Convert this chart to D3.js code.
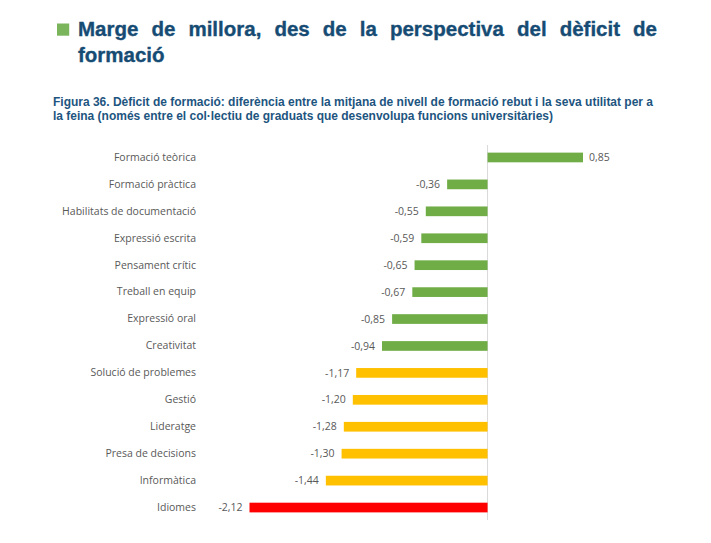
<!DOCTYPE html>
<html><head><meta charset="utf-8">
<script src="https://cdn.jsdelivr.net/npm/d3@7"></script>
<style>body{margin:0;background:#fff}</style>
</head><body>
<svg id="c" width="711" height="543"></svg>
<script>
const categories = ["Formació teòrica","Formació pràctica","Habilitats de documentació","Expressió escrita","Pensament crític","Treball en equip","Expressió oral","Creativitat","Solució de problemes","Gestió","Lideratge","Presa de decisions","Informàtica","Idiomes"];
const values = [0.85,-0.36,-0.55,-0.59,-0.65,-0.67,-0.85,-0.94,-1.17,-1.20,-1.28,-1.30,-1.44,-2.12];
const groups = ["g","g","g","g","g","g","g","g","y","y","y","y","y","r"];
const groupColors = {g:"#70ad47", y:"#ffc000", r:"#ff0000"};
const titleLines = ["Marge de millora, des de la perspectiva del dèficit de","formació"];
const subtitleLines = ["Figura 36. Dèficit de formació: diferència entre la mitjana de nivell de formació rebut i la seva utilitat per a","la feina (només entre el col·lectiu de graduats que desenvolupa funcions universitàries)"];

const svg = d3.select("#c");
// title
svg.append("rect").attr("x",57).attr("y",23.5).attr("width",12.2).attr("height",12.2).attr("fill","#7ab55c");
const tf = "Liberation Sans, Arial, sans-serif";
const t1 = svg.append("text").attr("x",78).attr("y",36).attr("font-family",tf)
  .attr("font-weight","bold").attr("font-size",20.5).attr("fill","#164c74")
  .attr("stroke","#164c74").attr("stroke-width",0.35).text(titleLines[0]);
const nat = t1.node().getComputedTextLength();
const spaces = titleLines[0].split(" ").length-1;
t1.attr("word-spacing",(657-78-nat)/spaces);
svg.append("text").attr("x",78).attr("y",61.5).attr("font-family",tf)
  .attr("font-weight","bold").attr("font-size",20.5).attr("fill","#164c74")
  .attr("stroke","#164c74").attr("stroke-width",0.35).text(titleLines[1]);
// subtitle
const ends = [653,553];
subtitleLines.forEach((s,i)=>{
  svg.append("text").attr("x",53).attr("y",105.5+i*14).attr("font-family",tf)
    .attr("font-weight","bold").attr("font-size",12).attr("fill","#1d5580").text(s)
    .attr("textLength",ends[i]-53).attr("lengthAdjust","spacingAndGlyphs");
});

const x = d3.scaleLinear().domain([-2.12,0.85]).range([249.5,583]);
const y = d3.scaleBand().domain(categories).range([144,521]).paddingInner(0.64).paddingOuter(0.32);

svg.append("line").attr("x1",x(0)).attr("x2",x(0)).attr("y1",145).attr("y2",520).attr("stroke","#d9d9d9").attr("stroke-width",1);

svg.selectAll("rect.bar").data(values).enter().append("rect").attr("class","bar")
  .attr("x",d=>x(Math.min(0,d))).attr("width",d=>Math.abs(x(d)-x(0)))
  .attr("y",(d,i)=>y(categories[i])).attr("height",y.bandwidth())
  .attr("fill",(d,i)=>groupColors[groups[i]]);

const fmt = d=> d3.format(".2f")(d).replace("−","-").replace(".",",");
svg.selectAll("text.val").data(values).enter().append("text").attr("class","val")
  .attr("x",d=> d>=0 ? x(d)+6 : x(d)-7)
  .attr("y",(d,i)=>y(categories[i])+y.bandwidth()/2).attr("dy","0.35em")
  .attr("text-anchor",d=>d>=0?"start":"end")
  .attr("font-family","Open Sans, Noto Sans, sans-serif").attr("font-size",10.5).attr("fill","#595959")
  .text(fmt);

const yAxis = d3.axisLeft(y).tickSize(0).tickPadding(0);
const ag = svg.append("g").attr("transform","translate(196,0)").call(yAxis);
ag.select(".domain").remove();
ag.selectAll("text").attr("font-family","Open Sans, Noto Sans, sans-serif").attr("font-size",10.5).attr("fill","#595959");
</script>
</body></html>
